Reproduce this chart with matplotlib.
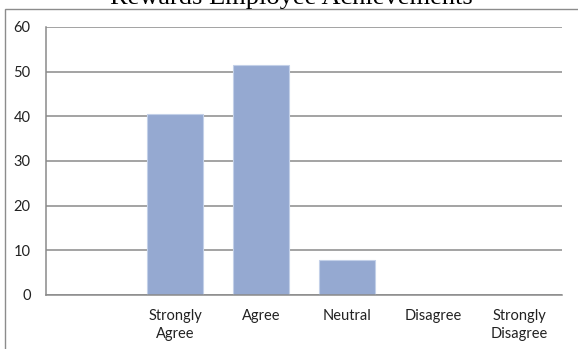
import matplotlib
matplotlib.use("Agg")
import matplotlib.pyplot as plt
from matplotlib.patches import Rectangle

title = "Rewards Employee Achievements"
categories = ["", "Strongly\nAgree", "Agree", "Neutral", "Disagree", "Strongly\nDisagree"]
values = [0, 40.6, 51.4, 7.9, 0, 0]
yticks = [0, 10, 20, 30, 40, 50, 60]

W, H = 578, 349
fig = plt.figure(figsize=(W / 100, H / 100), dpi=100)
fig.patch.set_facecolor("white")

# outer chart frame, runs off the right and bottom edges
fig.add_artist(Rectangle((4.5 / W, -0.2), 1.5, 1.2 - 9 / H,
                         transform=fig.transFigure, fill=False,
                         edgecolor="#8c8c8c", linewidth=1.0))

fig.text(291 / W, 1 - 4 / H, title, ha="center", va="baseline",
         fontsize=19, family="Liberation Serif", color="black")

ax = fig.add_axes([46 / W, 1 - 295 / H, (562 - 46) / W, (295 - 27) / H])
x = range(len(categories))
ax.bar(x, values, width=0.64, color="#95a9d1", edgecolor="#c3d0e8",
       linewidth=0.8, zorder=2)

ax.set_xlim(-0.5, len(categories) - 0.5)
ax.set_ylim(0, 60)
ax.set_yticks(yticks)
ax.set_xticks(list(x))
ax.set_xticklabels(categories, fontsize=10.5, family="Lato",
                   color="#222222", linespacing=1.35)
ax.set_yticklabels([str(t) for t in yticks], fontsize=10.5, family="Lato",
                   color="#222222")
ax.tick_params(axis="both", length=0)
ax.tick_params(axis="y", pad=11)
ax.tick_params(axis="x", pad=10)

ax.grid(axis="y", color="#8a8a8a", linewidth=1.1, zorder=1)
ax.set_axisbelow(True)
for side in ("top", "right"):
    ax.spines[side].set_visible(False)
for side in ("left", "bottom"):
    ax.spines[side].set_color("#8a8a8a")
    ax.spines[side].set_linewidth(1.1)

fig.savefig("out.png", dpi=100, facecolor="white")
plt.close(fig)
